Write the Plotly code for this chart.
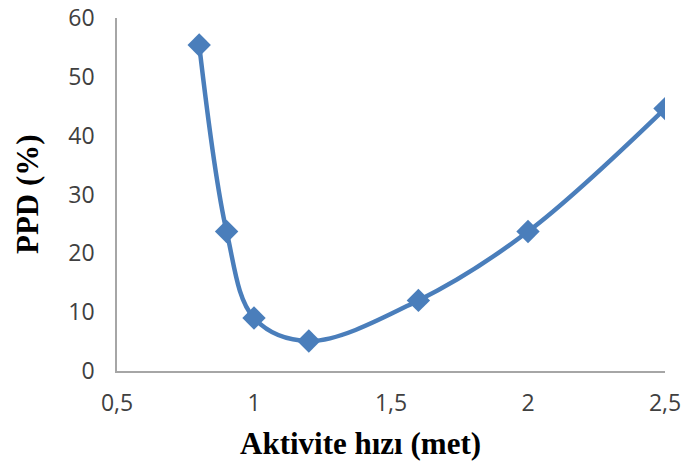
import plotly.graph_objects as go

# Activity rate (met) vs. predicted percentage dissatisfied
met = [0.8, 0.9, 1.0, 1.2, 1.6, 2.0, 2.5]
ppd = [55.4, 23.7, 9.0, 5.1, 12.0, 23.7, 44.6]

x_ticks = [0.5, 1, 1.5, 2, 2.5]
x_ticktext = ["0,5", "1", "1,5", "2", "2,5"]
y_ticks = [0, 10, 20, 30, 40, 50, 60]

blue = "#4A7EBB"

# plot area in pixels
L, R, T, B = 117, 665, 18, 371
W, H = 684, 464

fig = go.Figure()
fig.add_trace(go.Scatter(
    x=met, y=ppd,
    mode="lines+markers",
    line=dict(color=blue, width=4.5, shape="spline", smoothing=1.0),
    marker=dict(symbol="diamond", size=18, color=blue),
    showlegend=False,
))

tick_font = dict(family="Open Sans, Liberation Sans, sans-serif", size=23, color="#404040")
serif = "Liberation Serif, Times New Roman, serif"

fig.update_xaxes(
    range=[0.5, 2.5], tickvals=x_ticks, ticktext=x_ticktext,
    showgrid=False, zeroline=False, showline=True, linecolor="#A6A6A6", linewidth=1.5,
    ticks="", tickfont=tick_font, ticklabelstandoff=11, automargin=False,
)
fig.update_yaxes(
    range=[0, 60], tickvals=y_ticks,
    showgrid=False, zeroline=False, showline=True, linecolor="#A6A6A6", linewidth=1.5,
    ticks="", tickfont=tick_font, ticklabelstandoff=16, automargin=False,
)

pw, ph = R - L, B - T
fig.add_annotation(
    text="<b>Aktivite hızı (met)</b>", xref="paper", yref="paper",
    x=(360 - L) / pw, y=-(443 - B) / ph,
    showarrow=False, font=dict(family=serif, size=31, color="#000000"),
    xanchor="center", yanchor="middle",
)
fig.add_annotation(
    text="<b>PPD (%)</b>", xref="paper", yref="paper",
    x=-(L - 27) / pw, y=(B - 194) / ph,
    showarrow=False, font=dict(family=serif, size=31, color="#000000"),
    textangle=-90, xanchor="center", yanchor="middle",
)

fig.update_layout(
    width=W, height=H,
    margin=dict(l=L, r=W - R, t=T, b=H - B),
    paper_bgcolor="white", plot_bgcolor="white",
)

fig.write_html("out.html")
